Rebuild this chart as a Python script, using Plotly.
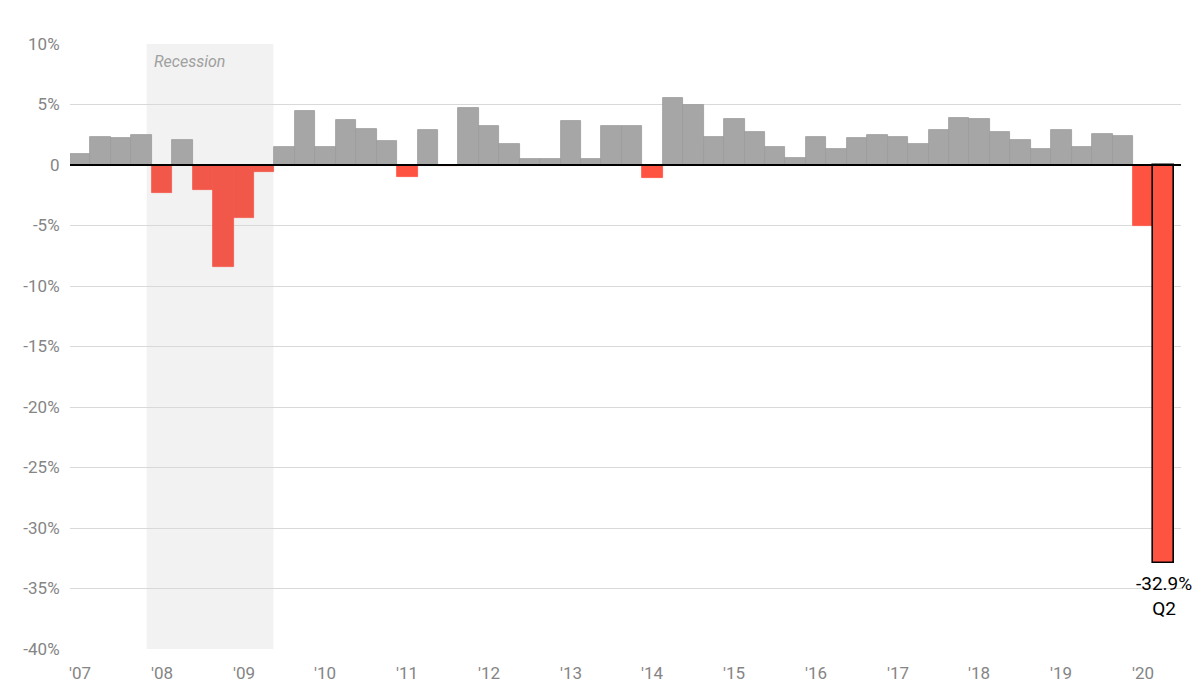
import plotly.graph_objects as go

# Real GDP growth, quarterly, annualized (%), 2007 Q1 - 2020 Q2
years = ["'07", "'08", "'09", "'10", "'11", "'12", "'13", "'14", "'15", "'16", "'17", "'18", "'19", "'20"]
quarters = [f"{2007 + i // 4} Q{i % 4 + 1}" for i in range(54)]
growth = [
    0.9, 2.3, 2.2, 2.5,
    -2.3, 2.1, -2.1, -8.4,
    -4.4, -0.6, 1.5, 4.5,
    1.5, 3.7, 3.0, 2.0,
    -1.0, 2.9, -0.1, 4.7,
    3.2, 1.7, 0.5, 0.5,
    3.6, 0.5, 3.2, 3.2,
    -1.1, 5.5, 5.0, 2.3,
    3.8, 2.7, 1.5, 0.6,
    2.3, 1.3, 2.2, 2.5,
    2.3, 1.7, 2.9, 3.9,
    3.8, 2.7, 2.1, 1.3,
    2.9, 1.5, 2.6, 2.4,
    -5.0, -32.9,
]
y_ticks = [10, 5, 0, -5, -10, -15, -20, -25, -30, -35, -40]
y_tick_text = ["10%", "5%", "0", "-5%", "-10%", "-15%", "-20%", "-25%", "-30%", "-35%", "-40%"]
recession = (3.75, 9.95)  # Dec 2007 - Jun 2009, in quarter units from 2007 Q1
callout_text = "-32.9%<br>Q2"

GRAY = "#a6a6a6"
RED = "#ff5341"
RED_SHADED = "#f2584a"

n = len(growth)
xs = [i + 0.5 for i in range(n)]
colors = []
line_colors = []
for x, v in zip(xs, growth):
    if v >= 0:
        colors.append(GRAY)
        line_colors.append("#9b9b9b")
    else:
        c = RED_SHADED if recession[0] <= x <= recession[1] else RED
        colors.append(c)
        line_colors.append(c)
line_widths = [0.8] * n
line_colors[-1] = "#000000"
line_widths[-1] = 1.6

fig = go.Figure()
fig.add_trace(go.Bar(
    x=xs, y=growth, width=1.0,
    customdata=quarters,
    marker=dict(color=colors, line=dict(color=line_colors, width=line_widths)),
    hovertemplate="%{customdata}: %{y}%<extra></extra>",
))

# recession shading
fig.add_shape(type="rect", xref="x", yref="y", x0=recession[0], x1=recession[1],
              y0=-40, y1=10, fillcolor="#f2f2f2", line=dict(width=0), layer="below")
fig.add_annotation(x=recession[0], y=10, xref="x", yref="y", text="<i>Recession</i>",
                   showarrow=False, xanchor="left", yanchor="top", xshift=5, yshift=-6,
                   font=dict(family="Roboto", size=16, color="#a0a0a0"))

# zero line
fig.add_shape(type="line", xref="paper", yref="y", x0=0, x1=1, y0=0, y1=0,
              line=dict(color="#000000", width=2), layer="above")

# year labels left-aligned at year starts
for k, lab in enumerate(years):
    fig.add_annotation(x=k * 4, y=0, xref="x", yref="paper", text=lab, showarrow=False,
                       xanchor="left", yanchor="top", yshift=-12, xshift=-3,
                       font=dict(family="Roboto", size=17, color="#858585"))

# callout on last bar
fig.add_annotation(x=xs[-1], y=growth[-1], xref="x", yref="y", text=callout_text,
                   showarrow=False, xanchor="center", yanchor="top", yshift=-7,
                   font=dict(family="Roboto", size=19, color="#000000"))

# page body has an 8px default margin, so margins are reduced by 8 on left/top
fig.update_layout(
    width=1200, height=699,
    margin=dict(l=62, r=27, t=36, b=58),
    paper_bgcolor="white", plot_bgcolor="white",
    bargap=0, showlegend=False,
    font=dict(family="Roboto", size=17, color="#858585"),
    xaxis=dict(range=[0, 54.35], showgrid=False, showticklabels=False, zeroline=False,
               showline=False, ticks=""),
    yaxis=dict(range=[-40, 10], tickvals=y_ticks, ticktext=y_tick_text, showgrid=True,
               gridcolor="#d9d9d9", gridwidth=1, zeroline=False, showline=False,
               ticks="outside", ticklen=6, tickcolor="rgba(0,0,0,0)",
               tickfont=dict(family="Roboto", size=17, color="#858585")),
)

fig.write_html("out.html")
